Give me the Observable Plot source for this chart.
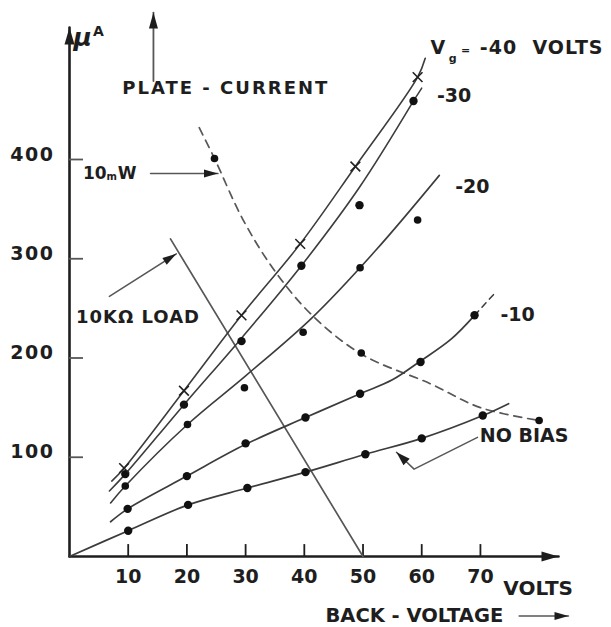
<!DOCTYPE html>
<html><head><meta charset="utf-8">
<script src="https://cdn.jsdelivr.net/npm/d3@7"></script>
<script src="https://cdn.jsdelivr.net/npm/@observablehq/plot@0.6"></script>
<style>
body{margin:0;background:#fff}
</style></head><body><div id="chart"></div>
<script>
// ---- tick labels
const xTicks = [10, 20, 30, 40, 50, 60, 70];
const yTicks = [100, 200, 300, 400];

// ---- measured points (back-voltage V, plate current µA)
const noBiasV = [10, 20.2, 30.3, 40.2, 50.4, 60, 70.4];
const noBiasI = [26, 52, 69, 85, 103, 119, 142];
const vg10V = [9.9, 20, 30, 40.2, 49.5, 59.8, 69];
const vg10I = [48, 81, 114, 140, 164, 196, 243];
const vg20V = [9.5, 20.1, 29.8, 39.8, 49.5, 59.3];
const vg20I = [71, 133, 170, 226, 291, 339];
const vg30V = [9.5, 19.5, 29.3, 39.5, 49.4, 58.6];
const vg30I = [83, 153, 217, 293, 354, 459];
const vg40V = [9.3, 19.5, 29.3, 39.3, 48.7, 59.3];
const vg40I = [89, 167, 243, 315, 393, 483];
const mwV = [24.7, 49.7, 80];
const mwI = [401, 205, 137];

// ---- drawn curves
const noBiasTraceV = [0, 10, 20.2, 30.3, 40.2, 50.4, 60, 70.4, 74.8];
const noBiasTraceI = [0, 26, 52, 69, 85, 103, 119, 142, 154];
const vg10TraceV = [7, 9.9, 20, 30, 40.2, 49.5, 55, 59.8, 65, 69];
const vg10TraceI = [35, 48, 81, 113, 140, 164, 178, 197, 219, 243];
const vg10DashV = [69, 72.4];
const vg10DashI = [243, 265];
const vg20TraceV = [7, 9.5, 20.1, 30, 41.4, 52.1, 63];
const vg20TraceI = [54, 71, 133, 182, 241, 308, 384];
const vg30TraceV = [6.8, 9.5, 19.5, 29.3, 39.5, 49.4, 58.6];
const vg30TraceI = [66, 83, 153, 220, 293, 372, 459];
const vg30DashV = [58.6, 60];
const vg30DashI = [459, 472];
const vg40TraceV = [7.2, 9.3, 19.5, 29.3, 39.3, 48.7, 59.3, 60.6];
const vg40TraceI = [76, 89, 167, 243, 315, 393, 483, 502];
const mwTraceV = [22.1, 24.7, 29.5, 34.7, 41, 49.7, 61.5, 70, 80];
const mwTraceI = [432, 401, 340, 290, 245, 204, 174, 150, 137];
const loadV = [17.2, 50];
const loadI = [320, 0];

// ---- layout
const W = 611, H = 627, mL = 69, mR = 53, mT = 27, mB = 71;
const XMAX = 83.3, YMAX = 533;
const kx = (W - mL - mR) / XMAX, ky = (H - mT - mB) / YMAX;
const FONT = "DejaVu Sans, Verdana, sans-serif";
const INK = "#1e1e1e", LINE = "#3c3c3c", GREY = "#575757";

const zip = (vs, is) => vs.map((v, i) => ({v, i: is[i]}));

function headSymbol(angleDeg, L, w) {
  const a = angleDeg * Math.PI / 180, c = Math.cos(a), s = Math.sin(a);
  const pts = [[0, 0], [-w / 2, L], [w / 2, L]].map(([x, y]) => [x * c - y * s, x * s + y * c]);
  return {draw(ctx) { ctx.moveTo(...pts[0]); ctx.lineTo(...pts[1]); ctx.lineTo(...pts[2]); ctx.closePath(); }};
}
function arrow(points, opts = {}) {
  const {L = 13, w = 7, sw = 1.5, stroke = GREY} = opts;
  const n = points.length, [x1, y1] = points[n - 2], [x2, y2] = points[n - 1];
  const ang = Math.atan2((x2 - x1) * kx, (y2 - y1) * ky) * 180 / Math.PI;
  const data = points.map(([v, i]) => ({v, i}));
  return [
    Plot.line(data, {x: "v", y: "i", stroke, strokeWidth: sw, curve: "linear"}),
    Plot.dot([data[n - 1]], {x: "v", y: "i", symbol: headSymbol(ang, L, w), fill: INK, stroke: "none", r: 5})
  ];
}
function label(text, v, i, size = 19, extra = {}) {
  return Plot.text([{v, i, text}], {x: "v", y: "i", text: "text", textAnchor: "start", fontSize: size,
    fontWeight: "bold", fontFamily: FONT, fill: INK, ...extra});
}

const curve = "catmull-rom";
const chart = Plot.plot({
  width: W, height: H, marginLeft: mL, marginRight: mR, marginTop: mT, marginBottom: mB,
  x: {domain: [0, XMAX], axis: null},
  y: {domain: [0, YMAX], axis: null},
  style: {background: "#fff", overflow: "visible"},
  marks: [
    // axes
    ...arrow([[0, 0], [XMAX, 0]], {L: 17, w: 10, sw: 2.6, stroke: INK}),
    ...arrow([[0, 0], [0, YMAX]], {L: 17, w: 10, sw: 2.6, stroke: INK}),
    Plot.ruleX(xTicks, {x: d => d, y1: 0, y2: 12, stroke: INK, strokeWidth: 1.8}),
    Plot.ruleY(yTicks, {y: d => d, x1: 0, x2: 14 / kx, stroke: GREY, strokeWidth: 1.8}),
    Plot.text(xTicks, {x: d => d, y: 0, dy: 20, text: d => String(d), fontSize: 19, fontWeight: "bold", fontFamily: FONT, fill: INK}),
    Plot.text(yTicks, {x: 0, y: d => d, dx: -15, dy: -5, textAnchor: "end", text: d => String(d), fontSize: 19, fontWeight: "bold", fontFamily: FONT, fill: INK}),

    // load line and 10 mW hyperbola
    Plot.line(zip(loadV, loadI), {x: "v", y: "i", stroke: GREY, strokeWidth: 1.7}),
    Plot.line(zip(mwTraceV, mwTraceI), {x: "v", y: "i", stroke: GREY, strokeWidth: 1.7, strokeDasharray: "8,6", curve}),

    // characteristic curves
    Plot.line(zip(noBiasTraceV, noBiasTraceI), {x: "v", y: "i", stroke: LINE, strokeWidth: 1.7, curve}),
    Plot.line(zip(vg10TraceV, vg10TraceI), {x: "v", y: "i", stroke: LINE, strokeWidth: 1.7, curve}),
    Plot.line(zip(vg10DashV, vg10DashI), {x: "v", y: "i", stroke: LINE, strokeWidth: 1.5, strokeDasharray: "6,5"}),
    Plot.line(zip(vg20TraceV, vg20TraceI), {x: "v", y: "i", stroke: LINE, strokeWidth: 1.6, curve}),
    Plot.line(zip(vg30TraceV, vg30TraceI), {x: "v", y: "i", stroke: LINE, strokeWidth: 1.6, curve}),
    Plot.line(zip(vg30DashV, vg30DashI), {x: "v", y: "i", stroke: LINE, strokeWidth: 1.5}),
    Plot.line(zip(vg40TraceV, vg40TraceI), {x: "v", y: "i", stroke: LINE, strokeWidth: 1.6, curve}),

    // measured points
    Plot.dot(zip(noBiasV, noBiasI), {x: "v", y: "i", r: 4.2, fill: "#111"}),
    Plot.dot(zip(vg10V, vg10I), {x: "v", y: "i", r: 4.2, fill: "#111"}),
    Plot.dot(zip(vg20V, vg20I), {x: "v", y: "i", r: 3.8, fill: "#111"}),
    Plot.dot(zip(vg30V, vg30I), {x: "v", y: "i", r: 4.2, fill: "#111"}),
    Plot.dot(zip(vg40V, vg40I), {x: "v", y: "i", r: 4.5, symbol: "times", stroke: "#222", strokeWidth: 1.6}),
    Plot.dot(zip(mwV, mwI), {x: "v", y: "i", r: 3.8, fill: "#111"}),

    // pointers
    ...arrow([[14.3, 479], [14.3, 548]], {L: 16, w: 9, sw: 1.8}),
    ...arrow([[76.6, -60], [85, -60]], {L: 14, w: 8, sw: 1.6}),
    ...arrow([[13.8, 386], [25.3, 386]], {L: 14, w: 8, sw: 1.5}),
    ...arrow([[6.8, 262], [18.2, 305]], {L: 14, w: 8, sw: 1.5}),
    ...arrow([[69.5, 120], [58.7, 88], [55.7, 105]], {L: 14, w: 9, sw: 1.5}),

    // texts
    label("\u03bc", 0.7, 522, 25, {fontStyle: "italic"}),
    label("A", 4.0, 529, 14),
    label("PLATE\u00a0-\u00a0CURRENT", 9.0, 471.5, 18),
    label("V", 61.5, 512, 19),
    label("g", 64.6, 502, 11),
    label("=", 66.7, 510, 11),
    label("-40\u00a0\u00a0VOLTS", 69.9, 512, 19),
    label("-30", 62.6, 464, 19),
    label("-20", 65.7, 372, 19),
    label("-10", 73.4, 243, 19),
    label("NO BIAS", 69.9, 122, 19),
    label("10", 2.3, 386, 17),
    label("m", 6.3, 383, 10),
    label("W", 8.2, 386, 17),
    label("10K\u03a9 LOAD", 1.1, 241, 18),
    label("VOLTS", 73.9, -32, 20),
    label("BACK - VOLTAGE", 43.6, -60, 19.5)
  ]
});
document.getElementById("chart").append(chart);
// letter spacing of the hand-lettered labels
const spacing = {"PLATE\u00a0-\u00a0CURRENT": "2px", "-40\u00a0\u00a0VOLTS": "1px", "10K\u03a9 LOAD": "1px",
  "100": "1.5px", "200": "1.5px", "300": "1.5px", "400": "1.5px"};
d3.select(chart).selectAll("text").each(function () {
  const s = spacing[this.textContent];
  if (s) this.style.letterSpacing = s;
});
</script>
</body></html>
